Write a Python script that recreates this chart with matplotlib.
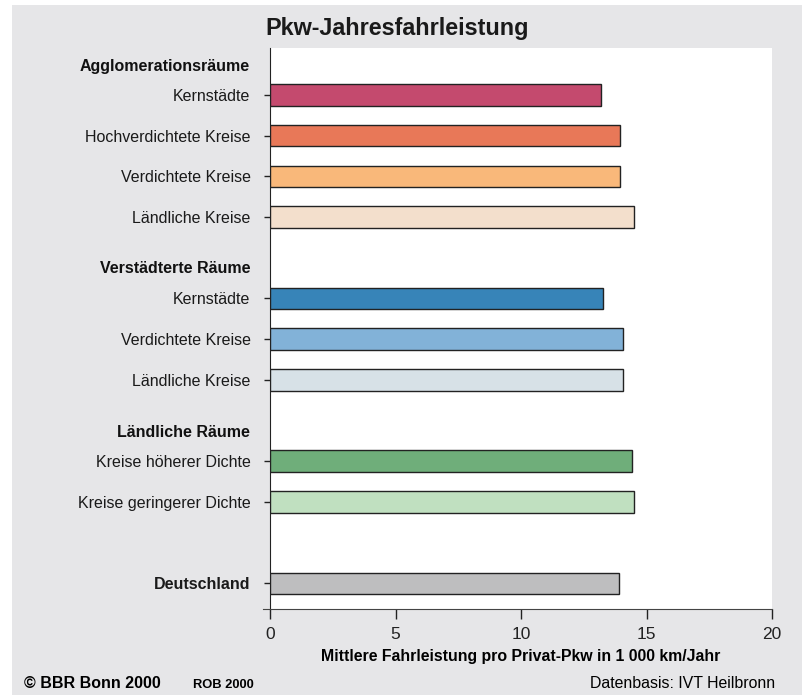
import matplotlib
matplotlib.use("Agg")
import matplotlib.pyplot as plt
from matplotlib.patches import Rectangle

plt.rcParams['font.family'] = ['Liberation Sans', 'DejaVu Sans']

# Categories, top to bottom
labels = ["Kernstädte", "Hochverdichtete Kreise", "Verdichtete Kreise", "Ländliche Kreise",
          "Kernstädte", "Verdichtete Kreise", "Ländliche Kreise",
          "Kreise höherer Dichte", "Kreise geringerer Dichte",
          "Deutschland"]
values = [13.2, 13.95, 13.95, 14.5,
          13.25, 14.08, 14.08,
          14.44, 14.5,
          13.9]
colors = ["#c44a6e", "#e87858", "#f9b87a", "#f3dfcc",
          "#3784b8", "#82b2d8", "#d7e1e7",
          "#6fae7a", "#c0e0c0",
          "#bebebf"]
# Row slots (gaps leave room for group headings)
slots = [1, 2, 3, 4, 6, 7, 8, 10, 11, 13]
headers = ["Agglomerationsräume", "Verstädterte Räume", "Ländliche Räume"]
header_slots = [0.31, 5.27, 9.30]
xticks = [0, 5, 10, 15, 20]

W, H = 802, 695
fig = plt.figure(figsize=(W / 100, H / 100), dpi=100)
fig.patch.set_facecolor("white")
fig.add_artist(Rectangle((12 / W, 0), 1 - 12 / W, 1 - 5 / H, transform=fig.transFigure,
                         facecolor="#e6e6e8", edgecolor="none", zorder=-5))

ax = fig.add_axes([270 / W, 1 - 609 / H, (772 - 270) / W, (609 - 48) / H])
ax.set_zorder(1)
ax.set_facecolor("white")

ax.barh(slots, values, height=0.53, color=colors, edgecolor="#222222", linewidth=1.0, zorder=3)

ax.set_xlim(0, 20)
ax.set_ylim(13.63, -0.155)
ax.set_xticks(xticks)
ax.set_xticklabels([str(t) for t in xticks], fontsize=12.5, color="#222222")
ax.set_yticks(slots)
ytl = ax.set_yticklabels(labels, fontsize=11.5, color="#1a1a1a")
ytl[-1].set_fontweight("bold")

ax.tick_params(axis="y", direction="out", length=4, width=1, color="#222222", pad=10)
ax.tick_params(axis="x", direction="out", length=7, width=1, color="#222222", pad=6)

for s in ("top", "right"):
    ax.spines[s].set_visible(False)
ax.spines["left"].set_color("#222222")
ax.spines["bottom"].set_color("#444444")
ax.spines["bottom"].set_bounds(-0.28, 20)

for h, y in zip(headers, header_slots):
    ax.annotate(h, xy=(0, y), xycoords=("axes fraction", "data"),
                xytext=(-14.4, 0), textcoords="offset points",
                ha="right", va="center", fontsize=11.5, fontweight="bold", color="#111111")

ax.set_xlabel("Mittlere Fahrleistung pro Privat-Pkw in 1 000 km/Jahr",
              fontsize=11.4, fontweight="bold", labelpad=5)

fig.text(397 / W, 1 - 28 / H, "Pkw-Jahresfahrleistung", ha="center", va="center",
         fontsize=16.8, fontweight="bold", color="#1a1a1a")
fig.text(24 / W, 1 - 684 / H, "© BBR Bonn 2000", ha="left", va="center",
         fontsize=11.5, fontweight="bold")
fig.text(193 / W, 1 - 685 / H, "ROB 2000", ha="left", va="center",
         fontsize=9.3, fontweight="bold")
fig.text(775 / W, 1 - 684 / H, "Datenbasis: IVT Heilbronn", ha="right", va="center",
         fontsize=11.4)

fig.savefig("out.png", dpi=100, facecolor=fig.get_facecolor())
